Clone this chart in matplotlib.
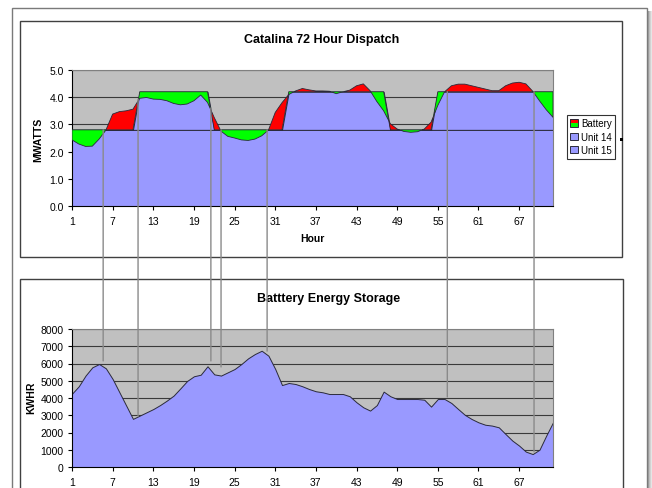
import matplotlib
matplotlib.use('Agg')
import matplotlib.pyplot as plt
import numpy as np
from matplotlib.patches import Rectangle, ConnectionPatch, Patch
from matplotlib.legend_handler import HandlerBase

plt.rcParams['font.family'] = ['Liberation Sans', 'DejaVu Sans']

# ---------------- data ----------------
hours = list(range(1, 73))
unit15 = [2.8, 2.8, 2.8, 2.8, 2.8, 2.8, 2.8, 2.8, 2.8, 2.8, 2.8, 2.8,
          2.8, 2.8, 2.8, 2.8, 2.8, 2.8, 2.8, 2.8, 2.8, 2.8, 2.8, 2.8,
          2.8, 2.8, 2.8, 2.8, 2.8, 2.8, 2.8, 2.8, 2.8, 2.8, 2.8, 2.8,
          2.8, 2.8, 2.8, 2.8, 2.8, 2.8, 2.8, 2.8, 2.8, 2.8, 2.8, 2.8,
          2.8, 2.8, 2.8, 2.8, 2.8, 2.8, 2.8, 2.8, 2.8, 2.8, 2.8, 2.8,
          2.8, 2.8, 2.8, 2.8, 2.8, 2.8, 2.8, 2.8, 2.8, 2.8, 2.8, 2.8]
unit14 = [0, 0, 0, 0, 0, 0, 0, 0, 0, 0,
          1.4, 1.4, 1.4, 1.4, 1.4, 1.4, 1.4, 1.4, 1.4, 1.4, 1.4,
          0, 0, 0, 0, 0, 0, 0, 0, 0, 0, 0,
          1.4, 1.4, 1.4, 1.4, 1.4, 1.4, 1.4, 1.4, 1.4, 1.4, 1.4, 1.4, 1.4, 1.4, 1.4,
          0, 0, 0, 0, 0, 0, 0,
          1.4, 1.4, 1.4, 1.4, 1.4, 1.4, 1.4, 1.4, 1.4, 1.4, 1.4, 1.4, 1.4, 1.4, 1.4, 1.4, 1.4, 1.4]
battery = [-0.37, -0.52, -0.61, -0.60, -0.34, -0.01, 0.58, 0.67, 0.70, 0.76,
           -0.24, -0.21, -0.27, -0.28, -0.33, -0.43, -0.48, -0.45, -0.33, -0.12,
           -0.39, 0.45, -0.05, -0.24, -0.30, -0.37, -0.39, -0.34, -0.22, -0.01,
           0.64, 1.00, -0.10, 0.03, 0.12, 0.07, 0.03, 0.03, 0.02, -0.07,
           0.00, 0.06, 0.22, 0.29, 0.04, -0.36, -0.70, 0.22, 0.03, -0.06,
           -0.09, -0.07, 0.03, 0.28, -0.50, 0.00, 0.22, 0.28, 0.28, 0.22,
           0.16, 0.10, 0.04, 0.04, 0.22, 0.32, 0.35, 0.29, 0.02, -0.33,
           -0.66, -0.94]
storage_kwh = [4250, 4680, 5300, 5780, 5970, 5720, 5100, 4330, 3560, 2790,
               2980, 3170, 3360, 3590, 3850, 4140, 4560, 4990, 5260, 5350,
               5840, 5370, 5300, 5490, 5680, 5970, 6300, 6550, 6740, 6450,
               5680, 4750, 4870, 4810, 4680, 4520, 4390, 4330, 4230, 4230,
               4230, 4100, 3750, 3460, 3270, 3590, 4370, 4100, 3940, 3940,
               3940, 3940, 3900, 3500, 3940, 3940, 3710, 3360, 3020, 2780,
               2590, 2450, 2400, 2300, 1910, 1530, 1240, 890, 750, 1000,
               1820, 2590]
x_ticks = [1, 7, 13, 19, 25, 31, 37, 43, 49, 55, 61, 67]
mw_ticks = [0.0, 1.0, 2.0, 3.0, 4.0, 5.0]
kwh_ticks = [0, 1000, 2000, 3000, 4000, 5000, 6000, 7000, 8000]
# annotation connector lines: hour, MW level (top chart), kWh level (bottom chart)
conn_hours = [5.6, 10.75, 21.5, 23.0, 29.8, 56.4, 69.2]
conn_mw = [2.8, 3.93, 3.6, 2.8, 2.8, 4.2, 4.2]
conn_kwh = [6150, 2960, 6150, 5800, 6720, 4060, 870]

LAV = '#9999FF'
RED = '#FF0000'
GRN = '#00FF00'
BG = '#C0C0C0'
EDGE = '#2a2a3a'

W, H = 652, 489
fig = plt.figure(figsize=(W / 100, H / 100), dpi=100)
fig.patch.set_facecolor('white')


def fx(px):
    return px / W


def fy(py):
    return 1 - py / H


# frames
fig.add_artist(Rectangle((fx(12), fy(560)), fx(647) - fx(12), fy(9) - fy(560),
                         transform=fig.transFigure, fill=False, edgecolor='#7a7a7a', lw=1.0))
for i, a in enumerate([0.55, 0.4, 0.28, 0.16, 0.08]):
    fig.add_artist(Rectangle((fx(647.5 + i), fy(560)), fx(1), fy(12) - fy(560),
                             transform=fig.transFigure, facecolor='#606060', alpha=a, lw=0))
fig.add_artist(Rectangle((fx(20), fy(258)), fx(622) - fx(20), fy(22) - fy(258),
                         transform=fig.transFigure, fill=False, edgecolor='#404040', lw=1.0))
fig.add_artist(Rectangle((fx(20), fy(560)), fx(623) - fx(20), fy(280) - fy(560),
                         transform=fig.transFigure, fill=False, edgecolor='#404040', lw=1.0))
fig.add_artist(Rectangle((fx(619.5), fy(141.5)), fx(3), fy(138.5) - fy(141.5),
                         transform=fig.transFigure, facecolor='black', lw=0))

ax1 = fig.add_axes([fx(72), fy(207), fx(553) - fx(72), fy(71) - fy(207)])
ax2 = fig.add_axes([fx(72), fy(468), fx(553) - fx(72), fy(330) - fy(468)])

x = np.array(hours, dtype=float)
u15 = np.array(unit15)
base = u15 + np.array(unit14)
total = base + np.array(battery)

for ax in (ax1, ax2):
    ax.set_facecolor(BG)
    ax.set_axisbelow(True)
    ax.set_xlim(1, 72)
    ax.set_xticks(x_ticks)
    ax.set_xticklabels([str(t) for t in x_ticks])
    ax.tick_params(axis='both', labelsize=7.5, length=3, width=0.8, color='black',
                   direction='out')
    ax.tick_params(axis='x', pad=4)
    ax.tick_params(axis='y', pad=3)
    ax.spines['left'].set_color('black')
    ax.spines['bottom'].set_color('black')
    ax.spines['top'].set_color('#808080')
    ax.spines['right'].set_color('#808080')
    for s in ax.spines.values():
        s.set_linewidth(0.8)
    ax.grid(axis='y', color='#3a3a3a', lw=0.8)
    ax.grid(axis='x', visible=False)

# top chart: stacked areas
ax1.fill_between(x, 0, u15, facecolor=LAV, edgecolor=EDGE, lw=0.7, zorder=2)
ax1.fill_between(x, u15, base, facecolor=LAV, edgecolor=EDGE, lw=0.7, zorder=2)
ax1.fill_between(x, base, total, where=total >= base, interpolate=True,
                 facecolor=RED, edgecolor=EDGE, lw=0.6, zorder=3)
ax1.fill_between(x, base, total, where=total < base, interpolate=True,
                 facecolor=GRN, edgecolor=EDGE, lw=0.6, zorder=3)
ax1.set_ylim(0, 5)
ax1.set_yticks(mw_ticks)
ax1.set_yticklabels([f'{v:.1f}' for v in mw_ticks])
ax1.set_xlabel('Hour', fontsize=7.5, fontweight='bold', labelpad=3)
ax1.xaxis.set_label_coords(0.5, -0.2)

# bottom chart
ax2.fill_between(x, 0, storage_kwh, facecolor=LAV, edgecolor=EDGE, lw=0.7, zorder=2)
ax2.set_ylim(0, 8000)
ax2.set_yticks(kwh_ticks)
ax2.set_yticklabels([str(v) for v in kwh_ticks])

# titles and axis titles
fig.text(fx(322), fy(40), 'Catalina 72 Hour Dispatch', fontsize=9, fontweight='bold',
         ha='center', va='center')
fig.text(fx(329), fy(299), 'Batttery Energy Storage', fontsize=9, fontweight='bold',
         ha='center', va='center')
fig.text(fx(38), fy(140), 'MWATTS', fontsize=7.5, fontweight='bold', rotation=90,
         ha='center', va='center')
fig.text(fx(31), fy(398), 'KWHR', fontsize=7.5, fontweight='bold', rotation=90,
         ha='center', va='center')


# legend
class SplitHandler(HandlerBase):
    def create_artists(self, legend, orig_handle, xdescent, ydescent, width, height,
                       fontsize, trans):
        x0, y0 = -xdescent, -ydescent
        top = Rectangle((x0, y0 + height / 2), width, height / 2, facecolor=RED,
                        edgecolor='none', transform=trans)
        bot = Rectangle((x0, y0), width, height / 2, facecolor=GRN,
                        edgecolor='none', transform=trans)
        box = Rectangle((x0, y0), width, height, fill=False, edgecolor=EDGE,
                        lw=0.7, transform=trans)
        return [top, bot, box]


bat_handle = Patch(facecolor=RED, edgecolor=EDGE)
h14 = Patch(facecolor=LAV, edgecolor=EDGE, lw=0.7)
h15 = Patch(facecolor=LAV, edgecolor=EDGE, lw=0.7)
leg = fig.legend([bat_handle, h14, h15], ['Battery', 'Unit 14', 'Unit 15'],
                 handler_map={bat_handle: SplitHandler()},
                 loc='upper left', bbox_to_anchor=(fx(567), fy(116)),
                 frameon=True, fancybox=False, edgecolor='black', fontsize=7,
                 borderpad=0.35, labelspacing=0.35, handletextpad=0.35,
                 handlelength=0.75, handleheight=0.75, borderaxespad=0)
leg.get_frame().set_linewidth(0.8)

# connector lines
for h, mw, kwh in zip(conn_hours, conn_mw, conn_kwh):
    con = ConnectionPatch(xyA=(h, mw), coordsA=ax1.transData,
                          xyB=(h, kwh), coordsB=ax2.transData,
                          color='#8a8a8a', lw=1.0, zorder=10)
    fig.add_artist(con)

fig.savefig('out.png', dpi=100)
